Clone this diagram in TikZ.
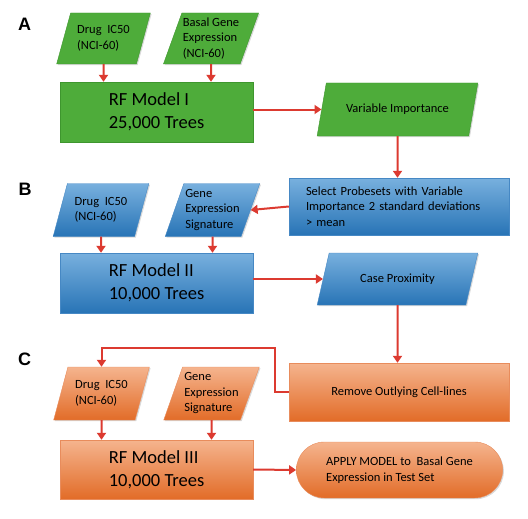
\documentclass[tikz,border=0pt]{standalone}
\usepackage{fontspec}
\setmainfont{Carlito}
\newfontfamily\labfont{Liberation Sans}
\usetikzlibrary{shapes.geometric,shapes.misc,arrows.meta,shadows}
\definecolor{grnf}{RGB}{78,172,58}
\definecolor{grnd}{RGB}{62,150,46}
\definecolor{blut}{RGB}{120,176,222}
\definecolor{blub}{RGB}{40,116,182}
\definecolor{blud}{RGB}{70,136,196}
\definecolor{orgt}{RGB}{245,180,142}
\definecolor{orgb}{RGB}{226,108,40}
\definecolor{orgd}{RGB}{232,140,92}
\definecolor{arrc}{RGB}{220,58,48}

\begin{document}
\begin{tikzpicture}[x=1pt, y=-1pt,
	box/.style = {rectangle, align=left, font=\fontsize{18.5}{23}\selectfont, minimum width=193pt, minimum height=60pt},
	para/.style = {trapezium, trapezium left angle=67, trapezium right angle=113, trapezium stretches=true, align=left, font=\fontsize{12.5}{15.5}\selectfont, inner sep=1pt},
	info/.style = {rectangle, align=left, font=\fontsize{12.5}{15.5}\selectfont, minimum width=220pt, minimum height=57pt},
	dshadow/.style = {drop shadow={shadow xshift=1.2pt, shadow yshift=-1.2pt, opacity=0.3}},
	grnbox/.style = {fill=grnf, draw=grnd, dshadow},
	blubox/.style = {top color=blut, bottom color=blub, draw=blud, dshadow},
	orgbox/.style = {top color=orgt, bottom color=orgb, draw=orgd, dshadow},
	sec/.style = {font=\labfont\bfseries\fontsize{18}{20}\selectfont},
	arr/.style = {draw=arrc, line width=2pt, -{Triangle[length=7pt,width=9pt]}}]
	\useasboundingbox (0,0) rectangle (528,519);
		\node[sec] (labA) at (24.5,24.5) {A};
		\node[sec] (labB) at (25,189.5) {B};
		\node[sec] (labC) at (24.5,359.5) {C};

		\node[para, grnbox, minimum width=94pt, minimum height=51pt] (drugA) at (103.5,38.5) {Drug\ \ IC50\\(NCI-60)};
		\node[para, grnbox, minimum width=94pt, minimum height=51pt] (basalA) at (211,38.5) {Basal Gene\\Expression\\(NCI-60)};
		\node[box, grnbox] (rf1) at (156.5,112) {RF Model I\\25,000 Trees};
		\node[para, grnbox, trapezium left angle=62, trapezium right angle=118, minimum width=161pt, minimum height=53pt] (varimp) at (397.5,109.5) {Variable Importance};

		\node[info, blubox, inner xsep=17pt, text width=186pt] (select) at (399,206.5) {Select Probesets with Variable\\Importance 2 standard deviations\\> mean};
		\node[para, blubox, minimum width=96pt, minimum height=53pt] (drugB) at (101,210) {Drug\ \ IC50\\(NCI-60)};
		\node[para, blubox, minimum width=95pt, minimum height=53pt] (geneB) at (212.5,210) {Gene\\Expression\\Signature};
		\node[box, blubox] (rf2) at (156.5,283) {RF Model II\\10,000 Trees};
		\node[para, blubox, trapezium left angle=62, trapezium right angle=118, minimum width=161pt, minimum height=52pt] (caseprox) at (397.5,279) {Case Proximity};

		\node[info, orgbox, minimum height=58pt] (remove) at (399,392) {Remove Outlying Cell-lines};
		\node[para, orgbox, minimum width=96pt, minimum height=53pt] (drugC) at (101.5,393.5) {Drug\ \ IC50\\(NCI-60)};
		\node[para, orgbox, minimum width=96pt, minimum height=53pt] (geneC) at (211.5,393.5) {Gene\\Expression\\Signature};
		\node[box, orgbox, minimum height=59pt] (rf3) at (156.5,469.5) {RF Model III\\10,000 Trees};
		\node[rounded rectangle, orgbox, align=left, font=\fontsize{12.5}{15.5}\selectfont, minimum width=213pt, minimum height=56pt] (apply) at (399.5,470) {APPLY MODEL to\ \ Basal Gene\\Expression in Test Set};

		\draw[arr] (drugA) -- (drugA |- rf1.north);
		\draw[arr] (basalA) -- (basalA |- rf1.north);
		\draw[arr] (rf1.east |- varimp.west) -- (varimp.west);
		\draw[arr] (varimp) -- (varimp |- select.north);
		\draw[arr] (select.west) -- (geneB.east);
		\draw[arr] (drugB) -- (drugB |- rf2.north);
		\draw[arr] (geneB) -- (geneB |- rf2.north);
		\draw[arr] (rf2.east |- caseprox.west) -- (caseprox.west);
		\draw[arr] (caseprox) -- (caseprox |- remove.north);
		\draw[arr] (remove.west) -- ++(-14,0) |- ([yshift=19pt]drugC.north) -- (drugC.north);
		\draw[arr] (drugC) -- (drugC |- rf3.north);
		\draw[arr] (geneC) -- (geneC |- rf3.north);
		\draw[arr] (rf3.east) -- (apply.west);
	\end{tikzpicture}
\end{document}
